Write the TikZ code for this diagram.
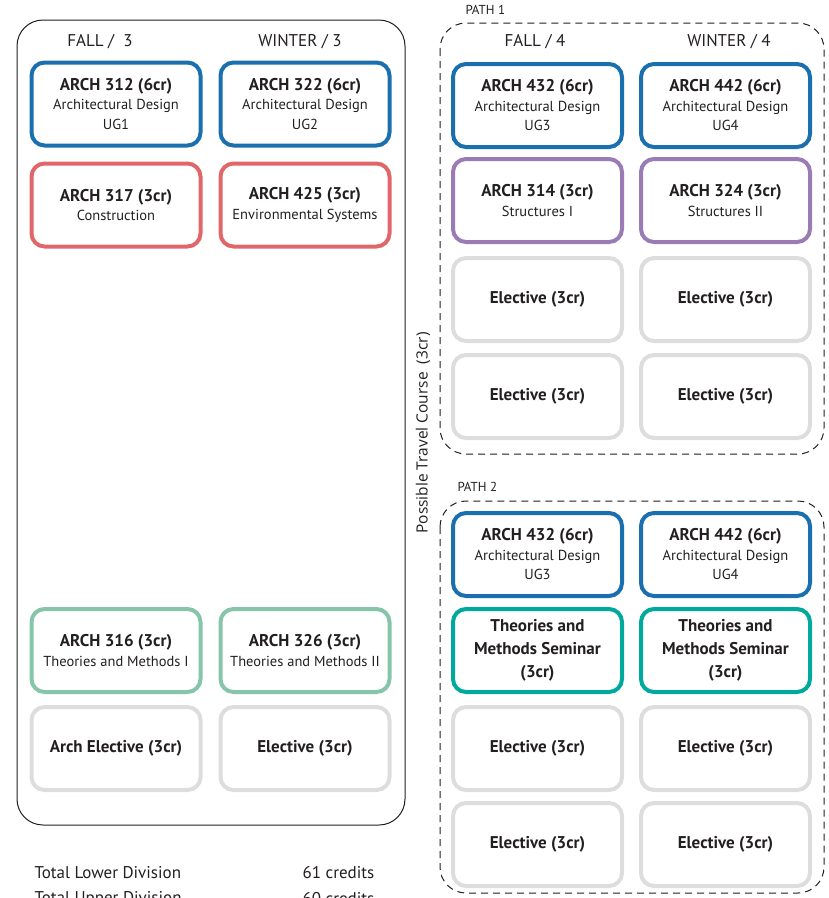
\documentclass[tikz,border=0pt]{standalone}
\usepackage{fontspec}
\setmainfont{PT Sans}
\newfontfamily\rotfont{Open Sans}
\definecolor{txt}{HTML}{231F20}
\definecolor{cblue}{HTML}{1A6FAE}
\definecolor{cred}{HTML}{E0666A}
\definecolor{cpurple}{HTML}{9B7BB5}
\definecolor{cgreen}{HTML}{86C5AA}
\definecolor{cteal}{HTML}{00A99D}
\definecolor{cgray}{HTML}{DDDDDE}
\begin{document}
\begin{tikzpicture}[x=1pt,y=-1pt,
  course/.style={draw,line width=4pt,rounded corners=13pt,minimum width=169pt,minimum height=83pt,align=center,text=txt,inner sep=0pt,font=\fontsize{14.5}{19.5}\selectfont},
  blu/.style={course,draw=cblue},
  rd/.style={course,draw=cred},
  pur/.style={course,draw=cpurple},
  grn/.style={course,draw=cgreen},
  tea/.style={course,draw=cteal},
  gry/.style={course,draw=cgray},
  hdr/.style={text=txt,font=\fontsize{17}{19}\selectfont},
  plabel/.style={text=txt,font=\fontsize{13}{15}\selectfont,anchor=west},
  tot/.style={anchor=west,text=txt,font=\fontsize{17}{19}\selectfont},
  pathbox/.style={line width=1pt,dash pattern=on 7pt off 5pt,rounded corners=26pt,draw=txt},
]
\newcommand{\ti}[1]{{\fontsize{17}{20}\selectfont\bfseries #1}}
\newcommand{\su}[1]{{\fontsize{14.5}{19.5}\selectfont #1}}
\useasboundingbox (0,0) rectangle (829,898);
% containers
\draw[line width=1pt,rounded corners=26pt,draw=txt] (17,20) rectangle (405,825);
\draw[pathbox] (440,23) rectangle (824,454);
\draw[pathbox] (440,501) rectangle (824,893);
% headers
\node[hdr] (h1) at (100,42) {FALL /\ \ 3};
\node[hdr] (h2) at (300,42) {WINTER / 3};
\node[hdr] (h3) at (535,42) {FALL / 4};
\node[hdr] (h4) at (729,42) {WINTER / 4};
\node[plabel] (p1) at (462,10) {PATH 1};
\node[plabel] (p2) at (454,487) {PATH 2};
% left
\node[blu] (a1) at (116,104) {\ti{ARCH 312 (6cr)}\\\su{Architectural Design}\\\su{UG1}};
\node[blu] (a2) at (305,104) {\ti{ARCH 322 (6cr)}\\\su{Architectural Design}\\\su{UG2}};
\node[rd] (b1) at (116,205) {\ti{ARCH 317 (3cr)}\\\su{Construction}};
\node[rd] (b2) at (305,205) {\ti{ARCH 425 (3cr)}\\\su{Environmental Systems}};
\node[grn] (c1) at (116,650.5) {\ti{ARCH 316 (3cr)}\\\su{Theories and Methods I}};
\node[grn] (c2) at (305,650.5) {\ti{ARCH 326 (3cr)}\\\su{Theories and Methods II}};
\node[gry] (d1) at (116,748.5) {\ti{Arch Elective (3cr)}};
\node[gry] (d2) at (305,748.5) {\ti{Elective (3cr)}};
% path 1
\node[blu] (e1) at (537.5,105.5) {\ti{ARCH 432 (6cr)}\\\su{Architectural Design}\\\su{UG3}};
\node[blu] (e2) at (725.5,105.5) {\ti{ARCH 442 (6cr)}\\\su{Architectural Design}\\\su{UG4}};
\node[pur] (f1) at (537.5,200.5) {\ti{ARCH 314 (3cr)}\\\su{Structures I}};
\node[pur] (f2) at (725.5,200.5) {\ti{ARCH 324 (3cr)}\\\su{Structures II}};
\node[gry] (g1) at (537.5,299.5) {\ti{Elective (3cr)}};
\node[gry] (g2) at (725.5,299.5) {\ti{Elective (3cr)}};
\node[gry] (k1) at (537.5,396.5) {\ti{Elective (3cr)}};
\node[gry] (k2) at (725.5,396.5) {\ti{Elective (3cr)}};
% path 2
\node[blu] (m1) at (537.5,554.5) {\ti{ARCH 432 (6cr)}\\\su{Architectural Design}\\\su{UG3}};
\node[blu] (m2) at (725.5,554.5) {\ti{ARCH 442 (6cr)}\\\su{Architectural Design}\\\su{UG4}};
\node[tea,font=\fontsize{17}{23}\selectfont\bfseries] (n1) at (537.5,650.5) {Theories and\\Methods Seminar\\(3cr)};
\node[tea,font=\fontsize{17}{23}\selectfont\bfseries] (n2) at (725.5,650.5) {Theories and\\Methods Seminar\\(3cr)};
\node[gry] (q1) at (537.5,748.5) {\ti{Elective (3cr)}};
\node[gry] (q2) at (725.5,748.5) {\ti{Elective (3cr)}};
\node[gry] (r1) at (537.5,844.5) {\ti{Elective (3cr)}};
\node[gry] (r2) at (725.5,844.5) {\ti{Elective (3cr)}};
% rotated
\node[rotate=90,text=txt,font=\rotfont\fontsize{15.5}{17}\selectfont] (trav) at (423,433) {Possible Travel Course\ \ (3cr)};
% totals
\node[tot] (t1) at (31,873) {Total Lower Division};
\node[tot] (t2) at (299,873) {61 credits};
\node[tot] (t3) at (31,899) {Total Upper Division};
\node[tot] (t4) at (299,899) {60 credits};
\end{tikzpicture}
\end{document}
